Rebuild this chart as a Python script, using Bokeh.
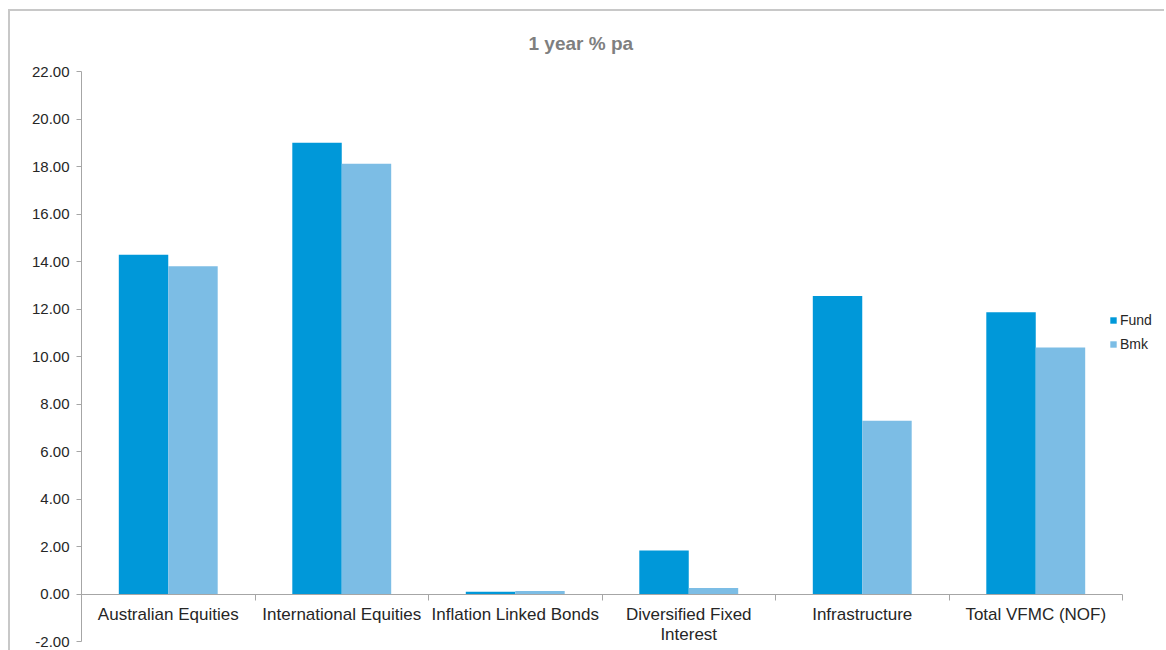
import numpy as np
from bokeh.plotting import figure
from bokeh.models import (FixedTicker, NumeralTickFormatter, LinearAxis, Legend,
                          LegendItem, Range1d, ColumnDataSource)
from bokeh.embed import file_html
from bokeh.resources import INLINE

# ---- data ----
categories = ["Australian Equities", "International Equities", "Inflation Linked Bonds",
              "Diversified Fixed\nInterest", "Infrastructure", "Total VFMC (NOF)"]
fund = [14.28, 19.00, 0.10, 1.83, 12.55, 11.86]
bmk = [13.80, 18.12, 0.13, 0.25, 7.30, 10.38]
y_ticks = [-2, 0, 2, 4, 6, 8, 10, 12, 14, 16, 18, 20, 22]
title_text = "1 year % pa"

FUND_COLOR = "#0098D9"
BMK_COLOR = "#7CBDE5"
AXIS_COLOR = "#A6A6A6"
TEXT_COLOR = "#262626"
FONT = "Liberation Sans"

n = len(categories)
idx = np.arange(n)
bar_w = 0.285
cat_px = 173.5            # pixel width of one category
extra = 38 / cat_px       # room to the right of the axis for the legend

src = ColumnDataSource(dict(
    fx=idx + 0.5 - bar_w / 2, bx=idx + 0.5 + bar_w / 2,
    fund=fund, bmk=bmk))

p = figure(frame_width=1079, frame_height=570,
           x_range=Range1d(0, n + extra), y_range=Range1d(y_ticks[0], y_ticks[-1]),
           x_axis_type=None, output_backend="svg", toolbar_location=None,
           min_border_left=71, min_border_top=60, min_border_bottom=30, min_border_right=4,
           title=title_text)
p.styles = {"margin-left": "8px", "margin-top": "9px",
            "border-left": "2px solid #C8C8C8", "border-top": "2px solid #C8C8C8"}

p.outline_line_color = None
p.xgrid.visible = False
p.ygrid.visible = False
p.background_fill_color = "white"
p.border_fill_color = "white"

p.title.align = "left"
p.title.offset = 447
p.title.text_color = "#7F7F7F"
p.title.text_font = FONT
p.title.text_font_size = "19px"
p.title.text_font_style = "bold"
p.title.standoff = 36

r1 = p.vbar(x="fx", top="fund", bottom=0, width=bar_w, source=src,
            fill_color=FUND_COLOR, line_color=None)
r2 = p.vbar(x="bx", top="bmk", bottom=0, width=bar_w, source=src,
            fill_color=BMK_COLOR, line_color=None)

# y axis
ya = p.yaxis[0]
ya.ticker = FixedTicker(ticks=y_ticks)
ya.formatter = NumeralTickFormatter(format="0.00")
ya.axis_line_color = AXIS_COLOR
ya.major_tick_line_color = AXIS_COLOR
ya.major_tick_out = 5
ya.major_tick_in = 0
ya.minor_tick_line_color = None
ya.major_label_standoff = 7
ya.major_label_text_font = FONT
ya.major_label_text_font_size = "15px"
ya.major_label_text_color = TEXT_COLOR

# x axis at y = 0: labels at category centres, ticks at category boundaries
xa = LinearAxis(fixed_location=0, bounds=(0, n),
                ticker=FixedTicker(ticks=list(idx + 0.5), minor_ticks=list(range(n + 1))),
                axis_line_color=AXIS_COLOR,
                major_tick_line_color=None, major_tick_out=0, major_tick_in=0,
                minor_tick_line_color=AXIS_COLOR, minor_tick_out=6, minor_tick_in=0,
                major_label_overrides={float(i + 0.5): c for i, c in enumerate(categories)},
                major_label_standoff=5,
                major_label_text_font=FONT, major_label_text_font_size="17px",
                major_label_text_line_height=1.05,
                major_label_text_color=TEXT_COLOR)
p.add_layout(xa, "below")

legend = Legend(items=[LegendItem(label="Fund", renderers=[r1]),
                       LegendItem(label="Bmk", renderers=[r2])],
                location=(1028, 289), orientation="vertical",
                glyph_width=8, glyph_height=8, label_height=16, spacing=8,
                label_standoff=3, padding=0, margin=0,
                border_line_color=None, background_fill_alpha=0,
                label_text_font=FONT, label_text_font_size="14px",
                label_text_color=TEXT_COLOR)
p.add_layout(legend, "center")

open("out.html", "w").write(file_html(p, INLINE))
